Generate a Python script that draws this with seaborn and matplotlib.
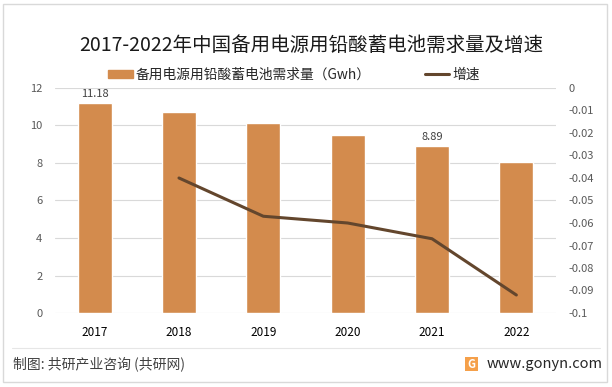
import numpy as np
import pandas as pd
import seaborn as sns
import matplotlib.pyplot as plt
from matplotlib.patches import Rectangle, Patch
from matplotlib.lines import Line2D

# data
years = ["2017", "2018", "2019", "2020", "2021", "2022"]
demand = [11.18, 10.73, 10.12, 9.51, 8.89, 8.07]   # Gwh
growth = [np.nan, -0.040, -0.057, -0.060, -0.067, -0.092]
shown_labels = ["11.18", "", "", "", "8.89", ""]
right_ticks = [0, -0.01, -0.02, -0.03, -0.04, -0.05, -0.06, -0.07, -0.08, -0.09, -0.1]
right_labels = ["0", "-0.01", "-0.02", "-0.03", "-0.04", "-0.05", "-0.06", "-0.07", "-0.08", "-0.09", "-0.1"]

bar_color = "#D38B4D"
line_color = "#63462D"

sns.set_style("white")
plt.rcParams['font.family'] = ['Noto Sans CJK SC', 'DejaVu Sans']

df = pd.DataFrame({"year": years, "demand": demand, "growth": growth, "pos": range(len(years))})

fig = plt.figure(figsize=(6.12, 3.87), dpi=100)
ax = fig.add_axes([55 / 612, 1 - 313 / 387, (556 - 55) / 612, (313 - 88) / 387])

sns.barplot(data=df, x="year", y="demand", color=bar_color, width=0.4, saturation=1, ax=ax)
ax.bar_label(ax.containers[0], labels=shown_labels, padding=3, fontsize=8, color="#404040")
ax.set_ylim(0, 12)
ax.set_yticks(range(0, 13, 2))
ax.yaxis.grid(True, color="#D9D9D9", lw=0.8)
ax.set_axisbelow(True)
ax.set_xlabel("")
ax.set_ylabel("")
for s in ax.spines.values():
    s.set_visible(False)
ax.tick_params(axis="y", length=0, pad=9, labelsize=8, labelcolor="#595959")
ax.tick_params(axis="x", length=0, pad=9, labelsize=8.5, labelcolor="#000000")

ax2 = ax.twinx()
sns.lineplot(data=df.dropna(), x="pos", y="growth", color=line_color, lw=2.2, ax=ax2)
ax2.set_ylim(-0.1, 0)
ax2.set_yticks(right_ticks)
ax2.set_yticklabels(right_labels)
ax2.set_xlim(ax.get_xlim())
ax2.set_ylabel("")
for s in ax2.spines.values():
    s.set_visible(False)
ax2.tick_params(axis="y", length=0, pad=9, labelsize=8, labelcolor="#595959")

fig.text(0.508, 1 - 45 / 387, "2017-2022年中国备用电源用铅酸蓄电池需求量及增速",
         ha="center", va="center", fontsize=14, color="#1a1a1a")

handles = [Patch(color=bar_color), Line2D([0], [0], color=line_color, lw=2.2)]
fig.legend(handles, ["备用电源用铅酸蓄电池需求量（Gwh）", "增速"], ncol=2, frameon=False,
           loc="center", bbox_to_anchor=(294 / 612, 1 - 75 / 387), fontsize=9.9,
           handlelength=1.8, handleheight=0.55, handletextpad=0.2, columnspacing=3.9)

# frame, separator and footer
fig.add_artist(Rectangle((3 / 612, 1 - 382 / 387), 604 / 612, 378 / 387, transform=fig.transFigure,
                         fill=False, edgecolor="#D9D9D9", lw=1))
fig.add_artist(Line2D([12 / 612, 600 / 612], [1 - 348 / 387] * 2, transform=fig.transFigure,
                      color="#E6E6E6", lw=0.8))
fig.text(13 / 612, 1 - 364 / 387, "制图: 共研产业咨询 (共研网)", ha="left", va="center",
         fontsize=10, color="#404040")
fig.add_artist(Rectangle((465 / 612, 1 - 371 / 387), 13 / 612, 14 / 387, transform=fig.transFigure,
                         facecolor="#F5A04A", edgecolor="none"))
fig.text(471.5 / 612, 1 - 364 / 387, "G", ha="center", va="center", fontsize=8,
         color="white", fontweight="bold")
fig.text(487 / 612, 1 - 364 / 387, "www.gonyn.com", ha="left", va="center",
         fontsize=10.5, color="#262626")

fig.savefig("out.png", dpi=100)
